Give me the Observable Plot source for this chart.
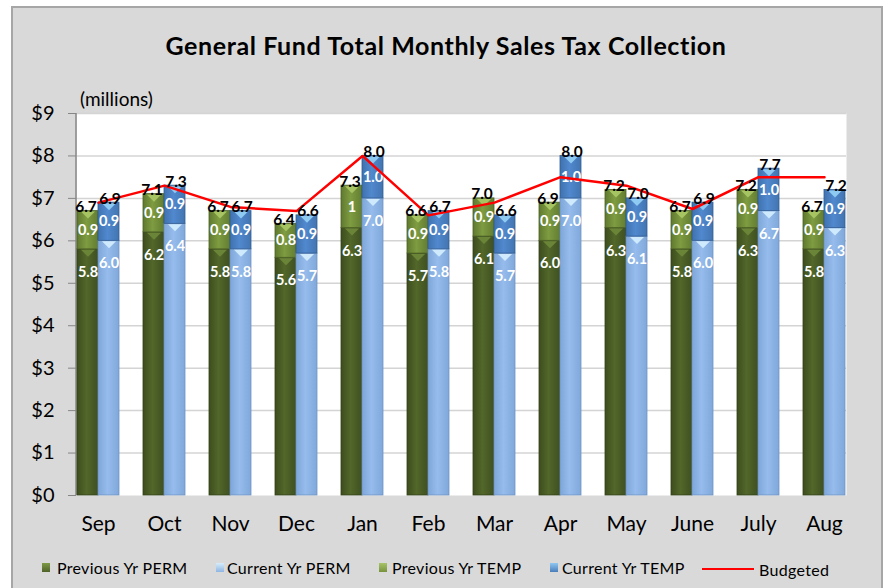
<!DOCTYPE html>
<html>
<head>
<meta charset="utf-8">
<script src="https://cdn.jsdelivr.net/npm/d3@7"></script>
<script src="https://cdn.jsdelivr.net/npm/@observablehq/plot@0.6"></script>
<style>
  html, body { margin: 0; padding: 0; background: #ffffff; }
  #wrap { position: relative; width: 884px; height: 588px; overflow: hidden; font-family: Lato, "Open Sans", sans-serif; }
  #frame { position: absolute; left: 11px; top: 6px; width: 868px; height: 600px; background: #d9d9d9; border: 2px solid #a6a6a6; border-bottom: none; }
  #title { position: absolute; left: 0; width: 892px; top: 30px; text-align: center; font-size: 25px; letter-spacing: 0.6px; font-weight: bold; color: #000; }
  #units { position: absolute; left: 80px; top: 87px; font-size: 19px; color: #000; }
  #chart { position: absolute; left: 0; top: 80px; }
  .lg { position: absolute; top: 558px; font-size: 16px; letter-spacing: 0.3px; color: #000; white-space: nowrap; }
  .sw { position: absolute; top: 563px; width: 8px; height: 9px; }
  #lgline { position: absolute; left: 702px; top: 568px; width: 52px; height: 2px; background: #ff0000; }
</style>
</head>
<body>
<div id="wrap">
  <div id="frame"></div>
  <div id="title">General Fund Total Monthly Sales Tax Collection</div>
  <div id="units">(millions)</div>
  <div id="chart"></div>
  <div class="sw" style="left:42px;background:linear-gradient(#7d9a45,#4f6228);"></div>
  <div class="lg" style="left:57px;">Previous Yr PERM</div>
  <div class="sw" style="left:216px;background:linear-gradient(#d6ecfb,#8db4e2);"></div>
  <div class="lg" style="left:227px;">Current Yr PERM</div>
  <div class="sw" style="left:379px;background:linear-gradient(#a8c46a,#76923c);"></div>
  <div class="lg" style="left:392px;">Previous Yr TEMP</div>
  <div class="sw" style="left:550px;background:linear-gradient(#8fc7f0,#4a7ebb);"></div>
  <div class="lg" style="left:562px;">Current Yr TEMP</div>
  <div id="lgline"></div>
  <div class="lg" style="left:759px;top:560px;">Budgeted</div>
</div>
<script>
const months = ["Sep","Oct","Nov","Dec","Jan","Feb","Mar","Apr","May","June","July","Aug"];
const prevPerm = [5.8, 6.2, 5.8, 5.6, 6.3, 5.7, 6.1, 6.0, 6.3, 5.8, 6.3, 5.8];
const prevTemp = [0.9, 0.9, 0.9, 0.8, 1.0, 0.9, 0.9, 0.9, 0.9, 0.9, 0.9, 0.9];
const prevTempLabels = ["0.9","0.9","0.9","0.8","1","0.9","0.9","0.9","0.9","0.9","0.9","0.9"];
const prevTotal = [6.7, 7.1, 6.7, 6.4, 7.3, 6.6, 7.0, 6.9, 7.2, 6.7, 7.2, 6.7];
const curPerm = [6.0, 6.4, 5.8, 5.7, 7.0, 5.8, 5.7, 7.0, 6.1, 6.0, 6.7, 6.3];
const curTemp = [0.9, 0.9, 0.9, 0.9, 1.0, 0.9, 0.9, 1.0, 0.9, 0.9, 1.0, 0.9];
const curTotal = [6.9, 7.3, 6.7, 6.6, 8.0, 6.7, 6.6, 8.0, 7.0, 6.9, 7.7, 7.2];
const budgeted = [6.9, 7.3, 6.8, 6.7, 8.0, 6.6, 6.9, 7.5, 7.3, 6.75, 7.5, 7.5];
const yTicks = [0,1,2,3,4,5,6,7,8,9];

const rows = months.map((m, i) => ({
  month: m,
  prevPerm: prevPerm[i], prevTop: prevPerm[i] + prevTemp[i], prevTempLabel: prevTempLabels[i], prevTotal: prevTotal[i],
  curPerm: curPerm[i], curTop: curPerm[i] + curTemp[i], curTemp: curTemp[i], curTotal: curTotal[i],
  prevTemp: prevTemp[i], budgeted: budgeted[i]
}));

const flatTri = { draw(ctx, size) { ctx.moveTo(-7, -3.5); ctx.lineTo(7, -3.5); ctx.lineTo(0, 3.5); ctx.closePath(); } };

function defs() {
  const g = d3.create("svg:defs");
  const mk = (id, stops) => {
    const lg = g.append("linearGradient").attr("id", id).attr("x1", "0").attr("x2", "1").attr("y1", "0").attr("y2", "0");
    stops.forEach(([o, c]) => lg.append("stop").attr("offset", o).attr("stop-color", c));
  };
  mk("gPP", [[0, "#3d4d1d"], [0.45, "#52672a"], [1, "#3f5020"]]);
  mk("gPT", [[0, "#60792f"], [0.45, "#7e9c41"], [1, "#637d31"]]);
  mk("gCP", [[0, "#7ea6d8"], [0.45, "#95bcec"], [1, "#80a8da"]]);
  mk("gCT", [[0, "#3f71ad"], [0.45, "#5189cf"], [1, "#4274b0"]]);
  return g.node();
}

function axisLine(index, scales, values, dimensions) {
  const { marginLeft, marginTop, height, marginBottom } = dimensions;
  const g = d3.create("svg:g");
  g.append("line").attr("x1", marginLeft).attr("x2", marginLeft)
    .attr("y1", marginTop).attr("y2", height - marginBottom)
    .attr("stroke", "#868686").attr("stroke-width", 1.5);
  return g.node();
}

const half = 10.5;   // label offset from group centre
const inset = 21;    // each bar takes half of the band
const segFont = 14.5;
const totFont = 15.5;
const chart = Plot.plot({
  width: 884, height: 460,
  marginLeft: 76, marginRight: 38, marginTop: 33, marginBottom: 45,
  style: { background: "transparent", fontFamily: "Lato, 'Open Sans', sans-serif", overflow: "visible" },
  x: { type: "band", domain: months, range: [65, 858], paddingInner: 0.36, paddingOuter: 0.18, label: null },
  y: { domain: [0, 9], label: null },
  marks: [
    defs,
    Plot.frame({ fill: "white", stroke: null }),
    Plot.gridY(yTicks.slice(1), { stroke: "#d4d4d4", strokeOpacity: 1, strokeWidth: 1.5 }),
    Plot.axisY(yTicks, { tickFormat: d => "$" + d, fontSize: 20, tickSize: 8, tickPadding: 14, stroke: "#868686", fill: "#000", label: null }),
    Plot.axisX({ tickSize: 0, tickPadding: 21, fontSize: 21, fill: "#000", label: null }),
    axisLine,
    // previous year bars
    Plot.barY(rows, { x: "month", y1: 0, y2: "prevPerm", insetRight: inset, fill: "url(#gPP)", stroke: "#34421a", strokeWidth: 0.8 }),
    Plot.barY(rows, { x: "month", y1: "prevPerm", y2: "prevTop", insetRight: inset, fill: "url(#gPT)", stroke: "#4d6124", strokeWidth: 0.8 }),
    // current year bars
    Plot.barY(rows, { x: "month", y1: 0, y2: "curPerm", insetLeft: inset, fill: "url(#gCP)", stroke: "#6f93c2", strokeWidth: 0.8 }),
    Plot.barY(rows, { x: "month", y1: "curPerm", y2: "curTop", insetLeft: inset, fill: "url(#gCT)", stroke: "#345f94", strokeWidth: 0.8 }),
    // bevel triangles
    Plot.dot(rows, { x: "month", y: "prevPerm", dx: -half, dy: 4, symbol: flatTri, fill: "#6b8538", stroke: null }),
    Plot.dot(rows, { x: "month", y: "prevTop", dx: -half, dy: 4, symbol: flatTri, fill: "#a7c463", stroke: null }),
    Plot.dot(rows, { x: "month", y: "curPerm", dx: half, dy: 4, symbol: flatTri, fill: "#cfeafc", stroke: null }),
    Plot.dot(rows, { x: "month", y: "curTop", dx: half, dy: 4, symbol: flatTri, fill: "#8fcaf2", stroke: null }),
    // segment labels
    Plot.text(rows, { x: "month", y: "prevPerm", dx: -half, dy: 23, text: d => d.prevPerm.toFixed(1), fill: "white", fontWeight: "bold", fontSize: segFont }),
    Plot.text(rows, { x: "month", y: d => d.prevPerm + d.prevTemp / 2, dx: -half, text: "prevTempLabel", fill: "white", fontWeight: "bold", fontSize: segFont }),
    Plot.text(rows, { x: "month", y: "curPerm", dx: half, dy: 23, text: d => d.curPerm.toFixed(1), fill: "white", fontWeight: "bold", fontSize: segFont }),
    Plot.text(rows, { x: "month", y: d => d.curPerm + d.curTemp / 2, dx: half, text: d => d.curTemp.toFixed(1), fill: "white", fontWeight: "bold", fontSize: segFont }),
    // budget line
    Plot.lineY(rows, { x: "month", y: "budgeted", stroke: "#ff0000", strokeWidth: 2.5 }),
    // totals
    Plot.text(rows, { x: "month", y: "prevTop", dx: -half - 2, lineAnchor: "bottom", dy: 1, text: d => d.prevTotal.toFixed(1), fill: "#000", fontWeight: "bold", fontSize: totFont }),
    Plot.text(rows, { x: "month", y: "curTop", dx: half + 1, lineAnchor: "bottom", dy: 1, text: d => d.curTotal.toFixed(1), fill: "#000", fontWeight: "bold", fontSize: totFont })
  ]
});
document.getElementById("chart").appendChild(chart);
</script>
</body>
</html>
